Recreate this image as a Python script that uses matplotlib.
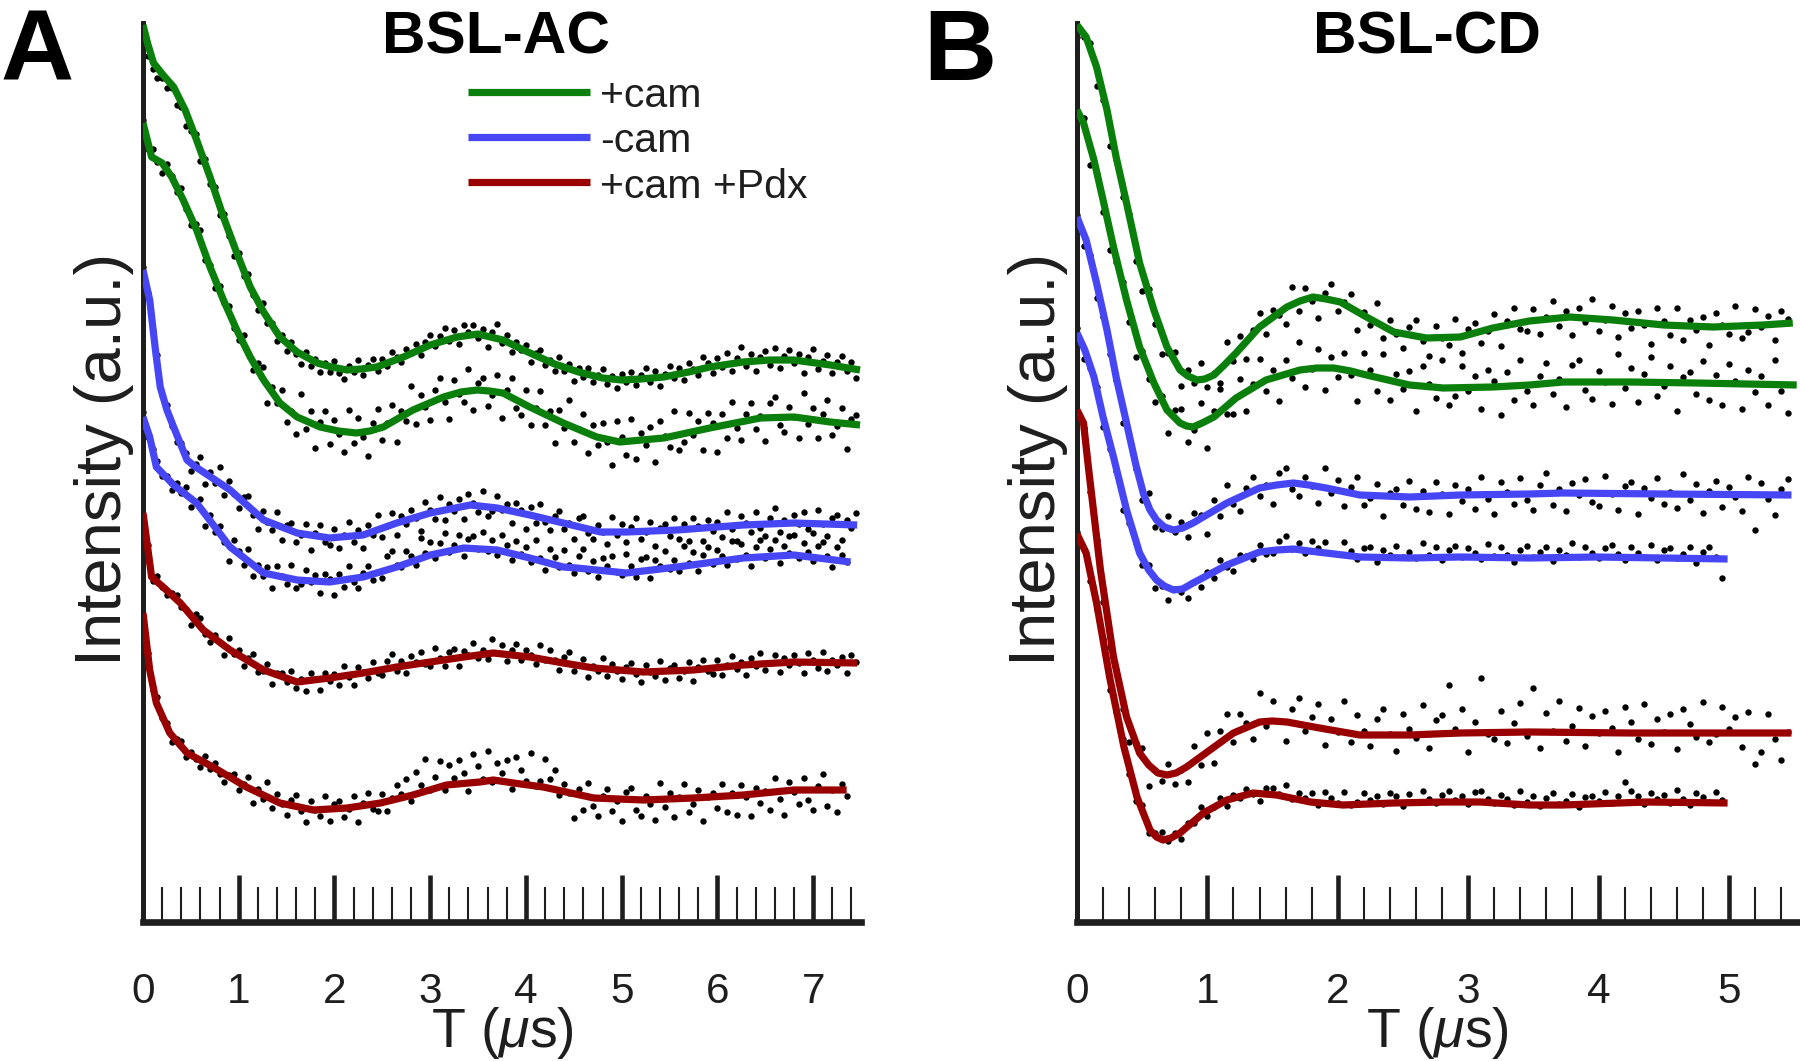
import numpy as np
import matplotlib
matplotlib.use("Agg")
import matplotlib.pyplot as plt

plt.rcParams['font.family'] = ['Liberation Sans', 'DejaVu Sans']
plt.rcParams['mathtext.fontset'] = 'custom'
plt.rcParams['mathtext.rm'] = 'Liberation Sans'
plt.rcParams['mathtext.it'] = 'Liberation Sans:italic'

green = '#0b7f0b'
blue = '#4646f5'
red = '#990000'
ink = '#1e1e1e'

# ---- panel A (BSL-AC), intensity in a.u. (offset traces), T in us ----
dt_ac = 0.05

ac_cam1_t = [0, 0.05, 0.11, 0.21, 0.32, 0.44, 0.56, 0.70, 0.84, 0.98, 1.12, 1.26, 1.43, 1.61, 1.82, 1.97, 2.13, 2.28,
             2.44, 2.72, 3.0, 3.28, 3.5, 3.76, 4.02, 4.3, 4.55, 4.8, 5.0, 5.2, 5.44, 5.7, 5.92, 6.27, 6.55, 6.8,
             7.18, 7.49]
ac_cam1_fit = [897, 878, 859, 847, 835, 812, 782, 745, 705, 669, 635, 610, 585, 570, 559, 555, 552, 553,
               555, 565, 577, 585, 588, 582, 570, 558, 550, 544, 542, 543, 545, 550, 555, 560, 562, 562,
               557, 552]
ac_cam1_dots = [892, 866, 853, 844, 844, 834, 834, 817, 815, 796,
                791, 788, 761, 763, 738, 735, 707, 708, 686, 666,
                669, 646, 648, 627, 612, 619, 599, 599, 581, 587,
                571, 580, 568, 558, 570, 556, 563, 550, 559, 550,
                561, 549, 543, 556, 550, 562, 547, 557, 563, 551,
                563, 556, 570, 565, 560, 573, 569, 578, 567, 580,
                587, 576, 586, 594, 581, 592, 578, 597, 590, 597,
                584, 593, 575, 590, 598, 579, 587, 570, 580, 572,
                577, 560, 569, 572, 557, 562, 551, 565, 551, 558,
                541, 554, 545, 554, 540, 547, 553, 538, 546, 534,
                548, 540, 550, 537, 547, 554, 540, 551, 536, 548,
                556, 544, 554, 542, 559, 553, 547, 565, 559, 549,
                564, 555, 569, 551, 564, 575, 556, 568, 551, 565,
                571, 557, 574, 554, 566, 572, 559, 568, 549, 565,
                573, 553, 561, 567, 549, 560, 566, 551, 560, 544]

ac_cam2_t = [0, 0.09, 0.20, 0.30, 0.42, 0.56, 0.70, 0.84, 0.98, 1.12, 1.26, 1.43, 1.61, 1.85, 2.04, 2.23, 2.37,
             2.51, 2.82, 3.14, 3.32, 3.49, 3.62, 3.76, 4.04, 4.39, 4.74, 4.98, 5.44, 5.92, 6.45, 6.80, 7.18, 7.49]
ac_cam2_fit = [799, 765, 759, 745, 722, 692, 655, 622, 592, 565, 542, 519, 505, 495, 491, 489, 491,
               495, 512, 525, 530, 532, 531, 529, 515, 499, 485, 480, 484, 494, 504, 505, 500, 497]
ac_cam2_dots = [802, 773, 773, 760, 749, 758, 746, 730, 734, 713,
                697, 698, 692, 662, 657, 634, 636, 619, 616, 594,
                582, 587, 569, 552, 559, 555, 519, 535, 519, 532,
                500, 511, 488, 528, 493, 511, 474, 500, 511, 478,
                502, 488, 470, 512, 479, 504, 485, 466, 499, 513,
                482, 499, 517, 480, 511, 501, 536, 498, 527, 515,
                502, 532, 544, 520, 503, 542, 528, 520, 553, 512,
                539, 544, 516, 527, 547, 504, 532, 544, 514, 507,
                532, 497, 514, 531, 497, 511, 479, 512, 494, 522,
                480, 493, 508, 469, 497, 477, 499, 480, 457, 501,
                485, 467, 503, 463, 489, 477, 495, 460, 501, 486,
                475, 511, 472, 480, 509, 487, 501, 472, 509, 499,
                470, 508, 484, 520, 494, 482, 508, 519, 493, 506,
                481, 519, 525, 497, 490, 515, 505, 484, 529, 498,
                514, 484, 508, 522, 487, 496, 514, 473, 503, 507]

ac_nocam1_t = [0, 0.07, 0.13, 0.18, 0.25, 0.32, 0.46, 0.55, 0.63, 0.91, 1.26, 1.61, 1.95, 2.30, 2.65, 3.0,
               3.42, 3.70, 4.04, 4.39, 4.78, 5.05, 5.58, 6.27, 6.80, 7.46]
ac_nocam1_fit = [652, 622, 572, 535, 512, 495, 462, 455, 450, 432, 402, 389, 384, 387, 399, 409,
                 417, 414, 407, 399, 390, 390, 392, 397, 399, 397]
ac_nocam1_dots = [655, 629, 591, 567, 527, 517, 496, 480, 479, 469,
                  451, 458, 465, 438, 450, 439, 455, 427, 441, 428,
                  414, 425, 426, 407, 393, 411, 400, 392, 410, 382,
                  397, 399, 380, 387, 398, 372, 389, 397, 380, 377,
                  393, 374, 387, 400, 380, 392, 374, 397, 387, 407,
                  385, 396, 409, 387, 406, 398, 412, 404, 391, 420,
                  412, 403, 425, 402, 418, 411, 423, 403, 428, 419,
                  410, 431, 406, 411, 426, 412, 418, 399, 419, 412,
                  393, 415, 399, 418, 400, 392, 406, 411, 393, 399,
                  383, 404, 406, 389, 383, 397, 390, 378, 405, 387,
                  398, 380, 395, 404, 383, 390, 400, 376, 394, 398,
                  386, 404, 383, 398, 381, 404, 396, 381, 402, 391,
                  400, 385, 410, 393, 381, 406, 399, 390, 410, 394,
                  386, 404, 414, 390, 402, 386, 407, 398, 410, 393,
                  389, 412, 398, 386, 404, 407, 382, 402, 394, 409]

ac_nocam2_t = [0, 0.07, 0.14, 0.32, 0.56, 0.91, 1.26, 1.61, 1.95, 2.30, 2.65, 3.0, 3.35, 3.70, 4.04, 4.39,
               4.53, 5.05, 5.58, 6.27, 6.80, 7.39]
ac_nocam2_fit = [505, 485, 455, 437, 419, 375, 349, 342, 340, 345, 355, 367, 374, 372, 364, 355,
                 354, 349, 355, 364, 367, 360]
ac_nocam2_dots = [510, 485, 473, 461, 446, 446, 432, 439, 429, 435,
                  415, 419, 423, 396, 407, 390, 396, 380, 361, 382,
                  371, 357, 373, 346, 357, 346, 355, 334, 356, 346,
                  338, 357, 334, 338, 352, 340, 347, 329, 348, 343,
                  327, 348, 335, 356, 340, 334, 349, 356, 342, 350,
                  344, 366, 371, 357, 355, 371, 366, 357, 384, 369,
                  380, 364, 379, 389, 370, 377, 387, 366, 383, 386,
                  373, 390, 371, 382, 367, 387, 377, 362, 381, 368,
                  375, 360, 382, 364, 352, 373, 365, 355, 372, 357,
                  349, 366, 373, 351, 361, 345, 364, 356, 366, 350,
                  347, 368, 356, 345, 363, 365, 344, 362, 356, 371,
                  353, 362, 351, 376, 359, 370, 351, 367, 375, 358,
                  372, 366, 357, 381, 363, 378, 367, 356, 375, 382,
                  364, 373, 382, 359, 376, 369, 387, 364, 379, 370,
                  361, 376, 380, 366, 355, 375, 367, 360]

ac_pdx1_t = [0, 0.09, 0.21, 0.39, 0.63, 0.91, 1.26, 1.61, 1.95, 2.30, 2.65, 3.0, 3.35, 3.66, 4.04, 4.39,
             4.71, 5.23, 5.75, 6.27, 6.80, 7.46]
ac_pdx1_fit = [409, 345, 335, 319, 292, 272, 252, 240, 244, 249, 255, 260, 265, 269, 265, 259,
               254, 250, 252, 257, 260, 259]
ac_pdx1_dots = [402, 377, 341, 346, 335, 327, 329, 327, 315, 313,
                297, 308, 304, 288, 280, 287, 280, 267, 284, 268,
                272, 256, 264, 268, 250, 251, 258, 238, 249, 249,
                240, 251, 234, 243, 231, 249, 243, 232, 249, 241,
                248, 237, 256, 245, 237, 255, 250, 244, 260, 249,
                247, 261, 268, 251, 261, 249, 266, 260, 270, 258,
                256, 274, 264, 256, 270, 273, 256, 271, 267, 279,
                264, 272, 263, 283, 269, 277, 261, 272, 278, 262,
                272, 267, 258, 277, 262, 272, 262, 252, 265, 270,
                251, 257, 263, 245, 256, 251, 264, 246, 258, 251,
                243, 255, 259, 248, 240, 257, 250, 246, 261, 242,
                254, 257, 244, 251, 260, 241, 255, 262, 251, 248,
                262, 247, 257, 266, 253, 260, 247, 264, 256, 269,
                252, 259, 267, 250, 264, 257, 267, 259, 249, 269,
                262, 254, 270, 251, 262, 257, 265, 249, 267, 260]

ac_pdx2_t = [0, 0.07, 0.14, 0.28, 0.46, 0.73, 1.08, 1.43, 1.78, 2.13, 2.48, 2.82, 3.17, 3.52, 3.66, 3.87,
             4.18, 4.71, 5.23, 5.75, 6.27, 6.80, 7.35]
ac_pdx2_fit = [309, 252, 219, 189, 169, 155, 135, 119, 112, 114, 119, 127, 137, 140, 142, 139,
               135, 124, 122, 124, 127, 132, 132]
ac_pdx2_dots = [305, 269, 232, 225, 204, 199, 180, 183, 181, 165,
                170, 163, 155, 166, 153, 159, 148, 140, 147, 148,
                132, 138, 145, 119, 133, 123, 140, 114, 128, 118,
                107, 122, 127, 111, 100, 121, 112, 106, 126, 101,
                118, 121, 105, 113, 126, 100, 119, 129, 113, 111,
                128, 111, 124, 137, 128, 143, 121, 150, 137, 163,
                132, 145, 161, 132, 157, 144, 162, 149, 131, 168,
                156, 143, 171, 140, 159, 149, 162, 133, 165, 152,
                141, 169, 136, 141, 163, 143, 152, 127, 138, 129,
                104, 133, 112, 139, 116, 106, 126, 133, 111, 121,
                101, 130, 134, 112, 106, 126, 118, 102, 139, 115,
                129, 105, 125, 138, 110, 118, 132, 101, 125, 129,
                114, 138, 110, 129, 107, 137, 125, 106, 134, 119,
                131, 112, 144, 123, 107, 140, 130, 118, 144, 122,
                112, 136, 148, 116, 132, 110, 138, 126]

# ---- panel B (BSL-CD) ----
dt_cd = 0.05

cd_cam1_t = [0, 0.07, 0.15, 0.23, 0.30, 0.38, 0.48, 0.59, 0.69, 0.79, 0.85, 0.92, 0.98, 1.05, 1.13, 1.22, 1.40,
             1.61, 1.71, 1.81, 1.91, 2.02, 2.22, 2.43, 2.68, 2.94, 3.19, 3.47, 3.78, 4.11, 4.50, 4.88, 5.26, 5.49]
cd_cam1_fit = [897, 885, 855, 812, 765, 719, 659, 612, 575, 552, 546, 542, 543, 547, 557, 569, 595,
               615, 621, 625, 623, 620, 605, 590, 584, 585, 594, 601, 605, 602, 597, 595, 597, 599]
cd_cam1_dots = [885, 885, 879, 836, 822, 776, 763, 725, 708, 661,
                631, 633, 598, 568, 569, 570, 536, 552, 539, 559,
                535, 549, 539, 580, 561, 586, 563, 592, 609, 588,
                612, 607, 598, 635, 611, 634, 621, 604, 629, 638,
                611, 620, 628, 592, 610, 597, 619, 584, 602, 588,
                574, 595, 602, 581, 566, 596, 584, 577, 603, 569,
                593, 599, 579, 591, 608, 576, 601, 614, 593, 591,
                613, 588, 605, 621, 596, 611, 587, 614, 600, 623,
                591, 602, 616, 585, 609, 594, 611, 597, 578, 614,
                601, 587, 614, 582, 602, 592, 605, 577, 609, 597,
                588, 616, 584, 590, 613, 595, 606, 582, 611, 603]

cd_cam2_t = [0, 0.05, 0.13, 0.20, 0.28, 0.38, 0.48, 0.59, 0.69, 0.79, 0.84, 0.89, 0.96, 1.05, 1.22, 1.45, 1.71,
             1.84, 1.97, 2.10, 2.22, 2.55, 2.81, 3.19, 3.47, 3.73, 4.24, 4.75, 5.52]
cd_cam2_fit = [812, 799, 762, 722, 675, 622, 575, 539, 512, 499, 496, 495, 499, 505, 524, 542, 552,
               554, 554, 551, 547, 537, 534, 535, 537, 540, 540, 539, 537]
cd_cam2_dots = [808, 804, 757, 748, 710, 672, 660, 640, 600, 565,
                571, 543, 520, 526, 489, 512, 513, 480, 492, 519,
                474, 511, 533, 508, 508, 543, 511, 538, 563, 531,
                552, 521, 562, 544, 580, 535, 553, 573, 532, 565,
                545, 569, 547, 521, 569, 552, 531, 568, 522, 548,
                533, 551, 511, 556, 538, 524, 562, 517, 526, 556,
                531, 546, 513, 552, 541, 507, 550, 522, 562, 531,
                517, 546, 559, 528, 543, 515, 557, 562, 532, 523,
                551, 540, 518, 568, 534, 554, 520, 548, 565, 526,
                536, 556, 511, 545, 550, 528, 561, 522, 547, 517,
                558, 541, 513, 552, 530, 546, 517, 562, 531, 509]

cd_nocam1_t = [0, 0.07, 0.15, 0.23, 0.30, 0.38, 0.45, 0.51, 0.56, 0.61, 0.67, 0.74, 0.81, 0.89, 1.15, 1.40,
               1.53, 1.66, 1.78, 1.91, 2.17, 2.55, 2.94, 3.47, 3.73, 4.50, 5.48]
cd_nocam1_fit = [705, 682, 639, 592, 545, 499, 458, 428, 412, 402, 395, 392, 394, 399, 419, 434,
                 437, 439, 437, 434, 427, 425, 427, 428, 429, 428, 427]
cd_nocam1_dots = [707, 676, 667, 624, 605, 568, 542, 499, 487, 453,
                  422, 429, 395, 393, 406, 390, 400, 385, 409, 407,
                  388, 422, 406, 437, 418, 411, 434, 445, 426, 437,
                  418, 449, 454, 433, 426, 445, 436, 419, 454, 429,
                  442, 416, 435, 445, 417, 424, 438, 406, 429, 433,
                  417, 441, 413, 431, 410, 440, 428, 408, 437, 421,
                  433, 413, 445, 423, 408, 440, 430, 418, 444, 422,
                  412, 437, 449, 417, 433, 411, 439, 427, 443, 420,
                  416, 446, 428, 412, 436, 440, 408, 434, 424, 444,
                  418, 430, 414, 448, 422, 438, 409, 431, 441, 415,
                  435, 425, 411, 445, 392, 439, 423, 407, 433, 443]

cd_nocam2_t = [0, 0.06, 0.13, 0.20, 0.28, 0.38, 0.48, 0.55, 0.61, 0.67, 0.74, 0.81, 0.89, 1.15, 1.40, 1.53,
               1.66, 1.78, 1.91, 2.17, 2.55, 2.94, 3.47, 3.99, 4.50, 4.99]
cd_nocam2_fit = [589, 572, 545, 505, 465, 412, 369, 352, 342, 336, 332, 333, 339, 357, 370, 372,
                 373, 371, 369, 365, 364, 365, 364, 365, 364, 363]
cd_nocam2_dots = [594, 563, 554, 535, 495, 473, 451, 412, 399, 379,
                  357, 357, 334, 336, 322, 333, 330, 324, 340, 335,
                  350, 344, 362, 355, 351, 367, 366, 363, 377, 368,
                  369, 381, 386, 373, 379, 369, 381, 374, 380, 369,
                  368, 380, 371, 363, 374, 375, 360, 372, 367, 376,
                  365, 370, 364, 379, 367, 375, 362, 372, 376, 365,
                  374, 369, 363, 378, 366, 375, 367, 360, 372, 376,
                  365, 370, 375, 361, 372, 367, 379, 365, 375, 369,
                  364, 374, 377, 368, 362, 375, 369, 365, 377, 362,
                  372, 374, 364, 368, 375, 359, 370, 375, 365, 344]

cd_pdx1_t = [0, 0.05, 0.09, 0.18, 0.28, 0.38, 0.48, 0.55, 0.62, 0.69, 0.76, 0.84, 1.02, 1.20, 1.40, 1.50, 1.61,
             1.86, 2.17, 2.55, 2.94, 3.47, 4.24, 5.48]
cd_pdx1_fit = [512, 499, 452, 352, 265, 205, 169, 157, 149, 147, 149, 155, 172, 189, 200, 201, 200,
               194, 187, 187, 189, 190, 189, 189]
cd_pdx1_dots = [503, 494, 430, 382, 320, 275, 252, 213, 180, 179,
                174, 136, 152, 141, 158, 138, 152, 140, 176, 157,
                189, 159, 191, 208, 180, 208, 199, 183, 229, 196,
                221, 201, 181, 213, 224, 191, 205, 218, 177, 203,
                190, 221, 180, 207, 191, 176, 203, 213, 188, 171,
                208, 193, 184, 217, 174, 202, 207, 237, 193, 213,
                170, 200, 244, 188, 183, 211, 179, 199, 219, 186,
                234, 174, 209, 191, 221, 181, 196, 214, 176, 206,
                189, 211, 194, 170, 215, 200, 183, 218, 178, 203,
                190, 208, 173, 213, 198, 185, 220, 180, 188, 215,
                193, 205, 175, 210, 158, 170, 208, 183, 162, 190]

cd_pdx2_t = [0, 0.07, 0.15, 0.25, 0.36, 0.46, 0.56, 0.61, 0.66, 0.72, 0.79, 0.97, 1.15, 1.35, 1.53, 1.79,
             2.04, 2.43, 2.81, 3.09, 3.47, 3.73, 4.37, 4.99]
cd_pdx2_fit = [388, 369, 319, 245, 175, 125, 92, 85, 82, 84, 89, 109, 122, 129, 127, 120,
               117, 119, 120, 120, 117, 117, 120, 119]
cd_pdx2_dots = [390, 373, 341, 313, 283, 232, 210, 183, 148, 121,
                117, 89, 89, 90, 81, 89, 83, 99, 99, 115,
                106, 115, 124, 116, 127, 124, 133, 128, 121, 134,
                134, 128, 137, 123, 129, 124, 129, 117, 130, 124,
                119, 130, 117, 120, 129, 122, 126, 118, 129, 126,
                116, 128, 120, 131, 123, 119, 127, 131, 122, 126,
                118, 130, 131, 123, 119, 127, 123, 117, 131, 120,
                126, 116, 124, 129, 118, 121, 128, 115, 125, 126,
                121, 130, 119, 126, 140, 131, 126, 118, 129, 123,
                127, 119, 132, 123, 117, 129, 125, 120, 130, 122]

legend_labels = ['+cam', '-cam', '+cam +Pdx']
legend_colors = [green, blue, red]

LW = 5.2


def draw_trace(ax, fit_t, fit_y, dots, dt, color):
    t = np.arange(len(dots)) * dt
    ax.plot(t, dots, 'o', ms=4.6, color='black', mec='none', zorder=2)
    ax.plot(fit_t, fit_y, color=color, lw=LW, zorder=3,
            solid_capstyle='butt', solid_joinstyle='round')


def style_axis(ax, xmax, nmajor):
    ax.set_xlim(0, xmax)
    ax.set_ylim(0, 899)
    for side in ['top', 'right']:
        ax.spines[side].set_visible(False)
    ax.spines['left'].set_linewidth(3.6)
    ax.spines['bottom'].set_linewidth(4.8)
    ax.spines['left'].set_color(ink)
    ax.spines['bottom'].set_color(ink)
    ax.set_yticks([])
    ax.set_xticks(range(nmajor))
    minor = [m / 5 for m in range(int(xmax * 5) + 1) if m % 5 != 0]
    ax.set_xticks(minor, minor=True)
    ax.tick_params(axis='x', which='major', direction='in', length=34, width=3.3,
                   color=ink, labelsize=30.5, labelcolor=ink, pad=36)
    ax.tick_params(axis='x', which='minor', direction='in', length=25, width=1.5, color=ink)
    ax.set_xlabel('T ($\\mu$s)', fontsize=40, color=ink, va='baseline')
    ax.xaxis.set_label_coords(0.5, -0.139)
    ax.set_ylabel('Intensity (a.u.)', fontsize=47, color=ink)
    ax.yaxis.set_label_coords(-0.013, 0.515)
    ax.patch.set_alpha(0)


fig = plt.figure(figsize=(18, 10.61), dpi=100)
ax_a = fig.add_axes([143 / 1800, 139 / 1061, 718 / 1800, 899 / 1061])
ax_b = fig.add_axes([1077 / 1800, 139 / 1061, 721 / 1800, 899 / 1061])

draw_trace(ax_a, ac_cam1_t, ac_cam1_fit, ac_cam1_dots, dt_ac, green)
draw_trace(ax_a, ac_cam2_t, ac_cam2_fit, ac_cam2_dots, dt_ac, green)
draw_trace(ax_a, ac_nocam1_t, ac_nocam1_fit, ac_nocam1_dots, dt_ac, blue)
draw_trace(ax_a, ac_nocam2_t, ac_nocam2_fit, ac_nocam2_dots, dt_ac, blue)
draw_trace(ax_a, ac_pdx1_t, ac_pdx1_fit, ac_pdx1_dots, dt_ac, red)
draw_trace(ax_a, ac_pdx2_t, ac_pdx2_fit, ac_pdx2_dots, dt_ac, red)

draw_trace(ax_b, cd_cam1_t, cd_cam1_fit, cd_cam1_dots, dt_cd, green)
draw_trace(ax_b, cd_cam2_t, cd_cam2_fit, cd_cam2_dots, dt_cd, green)
draw_trace(ax_b, cd_nocam1_t, cd_nocam1_fit, cd_nocam1_dots, dt_cd, blue)
draw_trace(ax_b, cd_nocam2_t, cd_nocam2_fit, cd_nocam2_dots, dt_cd, blue)
draw_trace(ax_b, cd_pdx1_t, cd_pdx1_fit, cd_pdx1_dots, dt_cd, red)
draw_trace(ax_b, cd_pdx2_t, cd_pdx2_fit, cd_pdx2_dots, dt_cd, red)

style_axis(ax_a, 7.5, 8)
style_axis(ax_b, 5.53, 6)

# legend (panel A, upper right of the traces)
for k, (lab, col) in enumerate(zip(legend_labels, legend_colors)):
    yk = 0.9236 - k * 0.0504
    ax_a.plot([0.4526, 0.6226], [yk, yk], color=col, lw=LW, transform=ax_a.transAxes,
              solid_capstyle='butt', clip_on=False)
    ax_a.text(0.6365, yk - 0.0170, lab, transform=ax_a.transAxes, fontsize=29.5,
              color=ink, ha='left', va='baseline')

fig.text(496 / 1800, 1 - 53 / 1061, 'BSL-AC', fontsize=43.5, fontweight='bold',
         ha='center', va='baseline', color='black')
fig.text(1427 / 1800, 1 - 53 / 1061, 'BSL-CD', fontsize=43.5, fontweight='bold',
         ha='center', va='baseline', color='black')
fig.text(0 / 1800, 1 - 80 / 1061, 'A', fontsize=73, fontweight='bold',
         ha='left', va='baseline', color='black')
fig.text(923 / 1800, 1 - 80 / 1061, 'B', fontsize=73, fontweight='bold',
         ha='left', va='baseline', color='black')

fig.savefig('out.png', dpi=100, facecolor='white')
